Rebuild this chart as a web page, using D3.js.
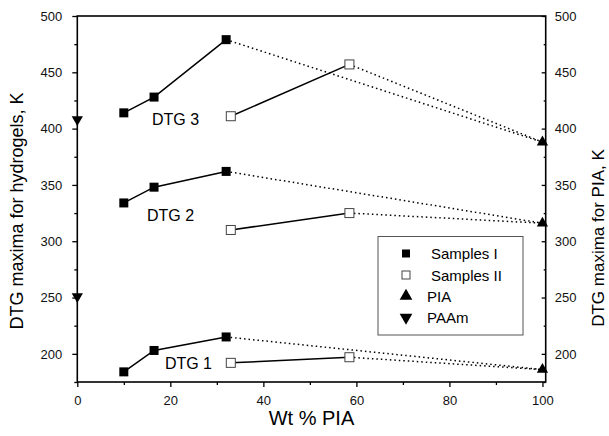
<!DOCTYPE html>
<html>
<head>
<meta charset="utf-8">
<script src="https://cdn.jsdelivr.net/npm/d3@7"></script>
<style>
  body { margin: 0; background: #fff; }
  svg { font-family: Arial, "Liberation Sans", sans-serif; }
</style>
</head>
<body>
<svg id="chart" width="609" height="436"></svg>
<script>
// Samples I (filled squares)
const xI = [10, 16.5, 32];
const dtg3I = [414, 428, 479];
const dtg2I = [334, 348, 362];
const dtg1I = [184, 203, 215];

// Samples II (open squares)
const xII = [33, 58.5];
const dtg3II = [411, 457];
const dtg2II = [310, 325];
const dtg1II = [192, 197];

// pure polymers
const piaX = 100;
const piaVals = [388, 316, 186];
const paamX = 0;
const paamVals = [408, 251];

const groupLabels = ["DTG 3", "DTG 2", "DTG 1"];
const xTicks = [0, 20, 40, 60, 80, 100];
const xMinor = [10, 30, 50, 70, 90];
const yTicks = [200, 250, 300, 350, 400, 450, 500];
const yMinor = [175, 225, 275, 325, 375, 425, 475];
const legendItems = ["Samples I", "Samples II", "PIA", "PAAm"];

const svg = d3.select("#chart");
const margin = {top: 16, right: 63.3, bottom: 54, left: 77.3};
const width = +svg.attr("width");
const height = +svg.attr("height");

const x = d3.scaleLinear()
  .domain([0, 100.7])
  .range([margin.left, width - margin.right]);

const y = d3.scaleLinear()
  .domain([175, 500])
  .range([height - margin.bottom, margin.top]);

function styleAxis(g) {
  g.select(".domain").remove();
  g.selectAll("line").attr("stroke", "#000").attr("stroke-width", 1.3);
  g.selectAll("text").style("font-size", "13px").attr("fill", "#111");
}

// frame
svg.append("rect")
  .attr("x", x(0)).attr("y", y(500))
  .attr("width", x(100.7) - x(0)).attr("height", y(175) - y(500))
  .attr("fill", "none").attr("stroke", "#000").attr("stroke-width", 1.6);

// bottom axis
svg.append("g")
  .attr("transform", `translate(0, ${y(175)})`)
  .call(d3.axisBottom(x).tickValues(xTicks).tickSize(5).tickPadding(9))
  .call(styleAxis);
svg.append("g")
  .attr("transform", `translate(0, ${y(175)})`)
  .call(d3.axisBottom(x).tickValues(xMinor).tickSize(3).tickFormat(""))
  .call(styleAxis);

// left axis
svg.append("g")
  .attr("transform", `translate(${x(0)}, 0)`)
  .call(d3.axisLeft(y).tickValues(yTicks).tickSize(5).tickPadding(10))
  .call(styleAxis);
svg.append("g")
  .attr("transform", `translate(${x(0)}, 0)`)
  .call(d3.axisLeft(y).tickValues(yMinor).tickSize(3).tickFormat(""))
  .call(styleAxis);

// right axis (ticks point inward)
svg.append("g")
  .attr("transform", `translate(${x(100.7)}, 0)`)
  .call(d3.axisRight(y).tickValues(yTicks).tickSize(-4).tickPadding(9))
  .call(styleAxis);
svg.append("g")
  .attr("transform", `translate(${x(100.7)}, 0)`)
  .call(d3.axisRight(y).tickValues(yMinor).tickSize(-2).tickFormat(""))
  .call(styleAxis);

// axis titles
svg.append("text")
  .attr("x", (x(0) + x(100.7)) / 2 + 0)
  .attr("y", 425)
  .attr("text-anchor", "middle")
  .style("font-size", "20px")
  .text("Wt % PIA");

svg.append("text")
  .attr("transform", "rotate(-90)")
  .attr("x", -211)
  .attr("y", 23)
  .attr("text-anchor", "middle")
  .style("font-size", "18px")
  .text("DTG maxima for hydrogels, K");

svg.append("text")
  .attr("transform", "rotate(-90)")
  .attr("x", -238)
  .attr("y", 604)
  .attr("text-anchor", "middle")
  .style("font-size", "17px")
  .text("DTG maxima for PIA, K");

const groupsI = [dtg3I, dtg2I, dtg1I];
const groupsII = [dtg3II, dtg2II, dtg1II];

const line = d3.line().x(d => x(d[0])).y(d => y(d[1]));

// dotted connectors to PIA
groupsI.forEach((vals, i) => {
  const last = vals.length - 1;
  svg.append("path")
    .attr("d", line([[xI[last], vals[last]], [piaX, piaVals[i]]]))
    .attr("fill", "none").attr("stroke", "#000")
    .attr("stroke-width", 1.5).attr("stroke-dasharray", "1.5,3");
});
groupsII.forEach((vals, i) => {
  const last = vals.length - 1;
  svg.append("path")
    .attr("d", line([[xII[last], vals[last]], [piaX, piaVals[i]]]))
    .attr("fill", "none").attr("stroke", "#000")
    .attr("stroke-width", 1.5).attr("stroke-dasharray", "1.5,3");
});

// solid lines
groupsI.forEach(vals => {
  svg.append("path")
    .attr("d", line(vals.map((v, j) => [xI[j], v])))
    .attr("fill", "none").attr("stroke", "#000").attr("stroke-width", 1.5);
});
groupsII.forEach(vals => {
  svg.append("path")
    .attr("d", line(vals.map((v, j) => [xII[j], v])))
    .attr("fill", "none").attr("stroke", "#000").attr("stroke-width", 1.5);
});

const sq = 9;
// filled squares
groupsI.forEach(vals => {
  svg.append("g").selectAll("rect")
    .data(vals.map((v, j) => [xI[j], v]))
    .join("rect")
    .attr("x", d => x(d[0]) - sq / 2)
    .attr("y", d => y(d[1]) - sq / 2)
    .attr("width", sq).attr("height", sq)
    .attr("fill", "#000");
});
// open squares
groupsII.forEach(vals => {
  svg.append("g").selectAll("rect")
    .data(vals.map((v, j) => [xII[j], v]))
    .join("rect")
    .attr("x", d => x(d[0]) - sq / 2)
    .attr("y", d => y(d[1]) - sq / 2)
    .attr("width", sq).attr("height", sq)
    .attr("fill", "#fff").attr("stroke", "#444").attr("stroke-width", 1);
});

const triUp = d3.symbol().type(d3.symbolTriangle).size(55);
// PIA up triangles
svg.append("g").selectAll("path")
  .data(piaVals)
  .join("path")
  .attr("transform", d => `translate(${x(piaX)}, ${y(d)})`)
  .attr("d", triUp)
  .attr("fill", "#000");

// PAAm down triangles
svg.append("g").selectAll("path")
  .data(paamVals)
  .join("path")
  .attr("transform", d => `translate(${x(paamX)}, ${y(d)}) rotate(180)`)
  .attr("d", triUp)
  .attr("fill", "#000");

// group labels
svg.append("text").attr("x", 152).attr("y", 125)
  .style("font-size", "16px").text(groupLabels[0]);
svg.append("text").attr("x", 147).attr("y", 220.5)
  .style("font-size", "16px").text(groupLabels[1]);
svg.append("text").attr("x", 212).attr("y", 369)
  .attr("text-anchor", "end")
  .style("font-size", "16px").text(groupLabels[2]);

// legend
const legend = svg.append("g");
legend.append("rect")
  .attr("x", 378).attr("y", 236.5)
  .attr("width", 145).attr("height", 98.5)
  .attr("fill", "#fff").attr("stroke", "#555").attr("stroke-width", 1);

const legY = [253.5, 275, 296, 317.5];
const legTextX = [431, 431, 427, 427];
legendItems.forEach((name, i) => {
  const cy = legY[i];
  if (i === 0) {
    legend.append("rect").attr("x", 402).attr("y", cy - 4)
      .attr("width", 8).attr("height", 8).attr("fill", "#000");
  } else if (i === 1) {
    legend.append("rect").attr("x", 402).attr("y", cy - 4)
      .attr("width", 8).attr("height", 8)
      .attr("fill", "#fff").attr("stroke", "#444").attr("stroke-width", 1);
  } else {
    legend.append("path")
      .attr("transform", `translate(406, ${cy}) ${i === 3 ? "rotate(180)" : ""}`)
      .attr("d", d3.symbol().type(d3.symbolTriangle).size(70))
      .attr("fill", "#000");
  }
  legend.append("text")
    .attr("x", legTextX[i]).attr("y", cy + 5.5)
    .style("font-size", "15px")
    .text(name);
});
</script>
</body>
</html>
